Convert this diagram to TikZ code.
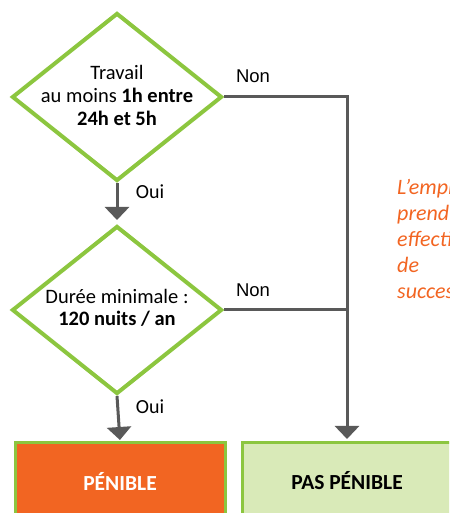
\documentclass[tikz,border=0pt]{standalone}
\usepackage{fontspec}
\setmainfont{Carlito}
\newfontfamily\arialish{Liberation Sans}
\usetikzlibrary{shapes.geometric,arrows.meta}
\definecolor{leaf}{HTML}{8CC63F}
\definecolor{wire}{HTML}{595959}
\definecolor{flame}{HTML}{F26522}
\definecolor{pale}{HTML}{D9EAB8}
\tikzset{
  x=1pt, y=1pt,
  decision/.style={diamond, draw=leaf, line width=4pt, minimum width=210pt,
    minimum height=168pt, inner sep=0pt, line join=miter},
  dtext/.style={align=center, font=\fontsize{20.5}{23}\selectfont},
  verdict/.style={draw=leaf, line width=3pt, minimum width=210pt,
    minimum height=110pt, anchor=north, inner sep=0pt},
  vtext/.style={font=\bfseries\fontsize{21.5}{24}\selectfont},
  flow/.style={draw=wire, line width=3pt, -{Triangle[width=24pt,length=13pt]}},
  wire line/.style={draw=wire, line width=3pt},
  answer/.style={font=\fontsize{20}{22}\selectfont},
  nolabel/.style={font=\arialish\fontsize{18.5}{20}\selectfont},
}
\begin{document}
\begin{tikzpicture}
\useasboundingbox (0,0) rectangle (449,513);
\clip (0,0) rectangle (449,513);

% decisions
\node[decision] (d1) at (117,416) {};
\node[dtext] (d1t) at (117,418) {Travail\\au moins \textbf{1h entre}\\\textbf{24h et 5h}};
\node[decision] (d2) at (117,203) {};
\node[dtext, font=\fontsize{20.5}{22}\selectfont] (d2t) at (117,205) {Durée minimale :\\\textbf{120 nuits / an}};

% outcomes
\node[verdict, fill=flame] (yes) at (120,72) {};
\node[vtext, text=white] (yest) at (120,32) {PÉNIBLE};
\node[verdict, fill=pale] (no) at (347,72) {};
\node[vtext] (not) at (347,32) {PAS PÉNIBLE};

% junctions on the right branch
\coordinate (j1) at (347,416);
\coordinate (j2) at (347,203);

% connectors
\draw[flow, shorten >=4pt] (d1.south) -- (d2.north);
\draw[flow, shorten >=1pt] (d2.south) -- (yes.north);
\draw[wire line] (d1.east) -- (j1);
\draw[wire line] (d2.east) -- (j2);
\draw[flow, shorten >=2pt] ([yshift=1.5pt]j1) -- (no.north);

% branch labels
\node[answer] (oui1) at (150,321) {Oui};
\node[answer] (oui2) at (150,106) {Oui};
\node[nolabel] (non1) at (253,437) {Non};
\node[nolabel] (non2) at (253,223) {Non};

% side note, running past the right edge
\node[anchor=north west, align=left, text=flame, inner sep=0pt,
      font=\itshape\fontsize{22}{26}\selectfont] (note) at (397,334)
  {L’employeur\\prend en compte\\effectivement\\de\\successives};
\end{tikzpicture}
\end{document}
